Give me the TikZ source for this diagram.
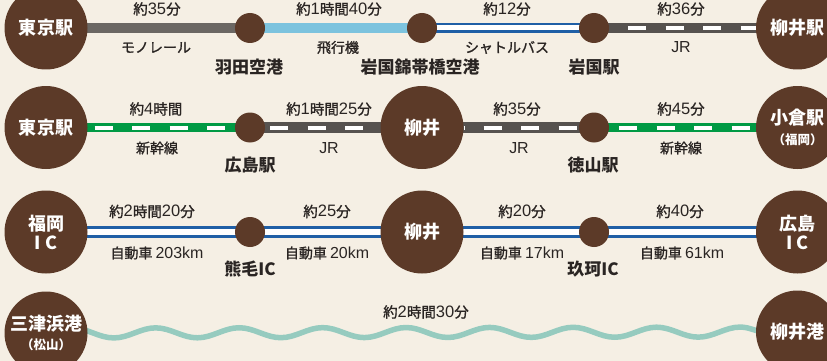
\documentclass[tikz,border=0pt]{standalone}
\usepackage{fontspec}
\setmainfont{Noto Sans CJK JP}
\newfontfamily\jpm{Noto Sans CJK JP}[FakeBold=1.2]
\newfontfamily\latm{Liberation Sans}[Scale=1.14]
\usetikzlibrary{decorations.pathmorphing}
\definecolor{bgc}{HTML}{F5EFE4}
\definecolor{brn}{HTML}{5C3A28}
\definecolor{txt}{HTML}{2A2523}
\definecolor{monoc}{HTML}{6B6763}
\definecolor{planec}{HTML}{7CC3DE}
\definecolor{roadc}{HTML}{1F5FA6}
\definecolor{jrc}{HTML}{56524F}
\definecolor{shinc}{HTML}{009A44}
\definecolor{seac}{HTML}{96CBBF}
\newcommand\subtxt[1]{{\bfseries\fontsize{12.5}{13}\selectfont #1}}
\newcommand\lnum[1]{{\latm #1}}
\pgfdeclarelayer{bgl}
\pgfdeclarelayer{lines}
\pgfsetlayers{bgl,lines,main}
\begin{document}
\begin{tikzpicture}[x=1pt,y=-1pt,
  big/.style={circle, fill=brn, minimum size=83pt, inner sep=0pt, text=white,
    font=\bfseries\fontsize{18}{19}\selectfont, align=center},
  small/.style={circle, fill=brn, minimum size=30pt, inner sep=0pt},
  time/.style={text=txt, font=\jpm\fontsize{14.5}{16}\selectfont, inner sep=0pt},
  mode/.style={text=txt, font=\jpm\fontsize{14}{16}\selectfont, inner sep=0pt},
  stn/.style={text=txt, font=\bfseries\fontsize{17}{19}\selectfont, inner sep=0pt},
  mono/.style={draw=monoc, line width=9.5pt},
  plane/.style={draw=planec, line width=9.5pt},
  roadout/.style={draw=roadc, line width=10.5pt},
  roadin/.style={draw=white, line width=5pt},
  jr/.style={draw=jrc, line width=10.5pt},
  shin/.style={draw=shinc, line width=9pt},
  dashw/.style={draw=white, line width=4pt, dash pattern=on 18pt off 19.5pt},
  sea/.style={draw=seac, line width=5.5pt, decorate,
    decoration={snake, segment length=83.5pt, amplitude=5pt}}
]
\begin{pgfonlayer}{bgl}
\fill[bgc] (0,0) rectangle (827,361);
\end{pgfonlayer}
\useasboundingbox (0,0) rectangle (827,361);

% row 1
\node[big] (t1) at (46,28) {東京駅};
\node[small] (hnd) at (250,28) {};
\node[small] (iap) at (422,28) {};
\node[small] (iwk) at (594,28) {};
\node[big] (y1) at (797.5,28) {柳井駅};
\node[time] at (157,9) {約\lnum{35}分};
\node[mode] at (156,47.5) {モノレール};
\node[time] at (339,9) {約\lnum{1}時間\lnum{40}分};
\node[mode] at (338,47.5) {飛行機};
\node[time] at (507,9) {約\lnum{12}分};
\node[mode] at (507,47.5) {シャトルバス};
\node[time] at (681,9) {約\lnum{36}分};
\node[mode] at (681,47.5) {\lnum{JR}};
\node[stn] at (249,67) {羽田空港};
\node[stn] at (420,67) {岩国錦帯橋空港};
\node[stn] at (594,67) {岩国駅};

% row 2
\node[big] (t2) at (46,127.5) {東京駅};
\node[small] (hir) at (250,127.5) {};
\node[big] (y2) at (422,127.5) {柳井};
\node[small] (tok) at (594,127.5) {};
\node[big] (kok) at (797.5,127.5) {小倉駅\\[1pt]\subtxt{（福岡）}};
\node[time] at (156,109) {約\lnum{4}時間};
\node[mode] at (157,148) {新幹線};
\node[time] at (329,109) {約\lnum{1}時間\lnum{25}分};
\node[mode] at (329,148) {\lnum{JR}};
\node[time] at (517,109) {約\lnum{35}分};
\node[mode] at (519,148) {\lnum{JR}};
\node[time] at (681,109) {約\lnum{45}分};
\node[mode] at (681,148) {新幹線};
\node[stn] at (250,165.5) {広島駅};
\node[stn] at (593,165.5) {徳山駅};

% row 3
\node[big] (fic) at (46,232) {福岡\\I C};
\node[small] (kum) at (250,232) {};
\node[big] (y3) at (422,232) {柳井};
\node[small] (kug) at (594,232) {};
\node[big] (hic) at (797.5,232) {広島\\I C};
\node[time] at (152,211.5) {約\lnum{2}時間\lnum{20}分};
\node[mode] at (157,253) {自動車 \lnum{203km}};
\node[time] at (327,211.5) {約\lnum{25}分};
\node[mode] at (327,253) {自動車 \lnum{20km}};
\node[time] at (522,211.5) {約\lnum{20}分};
\node[mode] at (522,253) {自動車 \lnum{17km}};
\node[time] at (680,211.5) {約\lnum{40}分};
\node[mode] at (682,253) {自動車 \lnum{61km}};
\node[stn] at (250,269.5) {熊毛IC};
\node[stn] at (593,269.5) {玖珂IC};

% row 4
\node[big] (mit) at (46,333) {三津浜港\\[0pt]\subtxt{（松山）}};
\node[big] (ynp) at (797.5,332) {柳井港};
\node[time] at (426,312) {約\lnum{2}時間\lnum{30}分};

\begin{pgfonlayer}{lines}
% row 1
\draw[mono] (t1.center) -- (hnd.center);
\draw[plane] (hnd.center) -- (iap.center);
\draw[roadout] (iap.center) -- (iwk.center);
\draw[roadin] (iap.center) -- (iwk.center);
\draw[jr] (iwk.center) -- (y1.center);
\draw[dashw, dash phase=18.5pt] (iwk.east) -- (y1.west);
% row 2
\draw[shin] (t2.center) -- (hir.center);
\draw[dashw, dash phase=30.5pt] (t2.east) -- (hir.west);
\draw[jr] (hir.center) -- (y2.center);
\draw[dashw, dash phase=32.5pt] (hir.east) -- (y2.west);
\draw[jr] (y2.center) -- (tok.center);
\draw[dashw, dash phase=17.5pt] (y2.east) -- (tok.west);
\draw[shin] (tok.center) -- (kok.center);
\draw[dashw, dash phase=27.5pt] (tok.east) -- (kok.west);
% row 3
\foreach \a/\b in {fic/kum, kum/y3, y3/kug, kug/hic}{
  \draw[roadout, line width=11.5pt] (\a.center) -- (\b.center);
  \draw[roadin, line width=5.5pt] (\a.center) -- (\b.center);
}
% row 4
\draw[sea] (mit.center) -- (ynp.center);
\end{pgfonlayer}
\end{tikzpicture}
\end{document}
